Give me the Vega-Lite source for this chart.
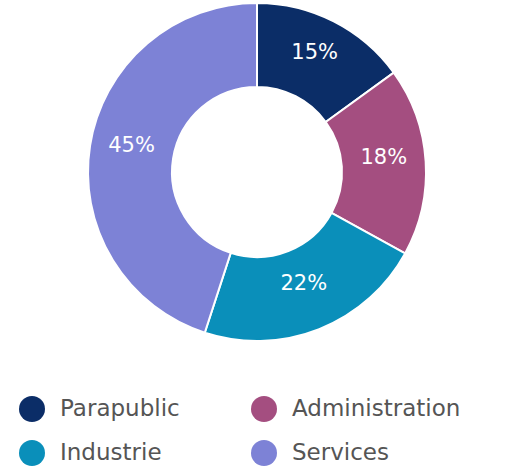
{
  "$schema": "https://vega.github.io/schema/vega-lite/v6.json",
  "autosize": "none",
  "width": 498,
  "height": 344,
  "padding": {"left": 8, "top": 0, "right": 0, "bottom": 125},
  "background": "white",
  "config": {"view": {"stroke": null}, "font": "DejaVu Sans"},
  "data": {
    "values": [
      {"category": "Parapublic", "share": 0.15, "rank": 1},
      {"category": "Administration", "share": 0.18, "rank": 2},
      {"category": "Industrie", "share": 0.22, "rank": 3},
      {"category": "Services", "share": 0.45, "rank": 4}
    ]
  },
  "encoding": {
    "theta": {"field": "share", "type": "quantitative", "stack": true},
    "order": {"field": "rank", "type": "quantitative"},
    "color": {
      "field": "category",
      "type": "nominal",
      "scale": {
        "domain": ["Parapublic", "Administration", "Industrie", "Services"],
        "range": ["#0b2d67", "#a44e80", "#0a8fba", "#7d82d6"]
      },
      "legend": {
        "title": null,
        "orient": "none",
        "legendX": 11,
        "legendY": 396,
        "columns": 2,
        "direction": "horizontal",
        "symbolType": "circle",
        "symbolSize": 676,
        "symbolStrokeWidth": 0,
        "labelFontSize": 23,
        "labelColor": "#555555",
        "labelFont": "DejaVu Sans",
        "labelOffset": 15,
        "rowPadding": 18,
        "columnPadding": 71,
        "labelLimit": 400
      }
    }
  },
  "layer": [
    {
      "mark": {"type": "arc", "outerRadius": 169, "innerRadius": 85, "stroke": "white", "strokeWidth": 2}
    },
    {
      "mark": {"type": "text", "radius": 127, "dy": -6, "fontSize": 21, "fill": "white", "font": "DejaVu Sans"},
      "encoding": {
        "text": {"field": "share", "type": "quantitative", "format": ".0%"},
        "color": {"value": "white"}
      }
    }
  ]
}
